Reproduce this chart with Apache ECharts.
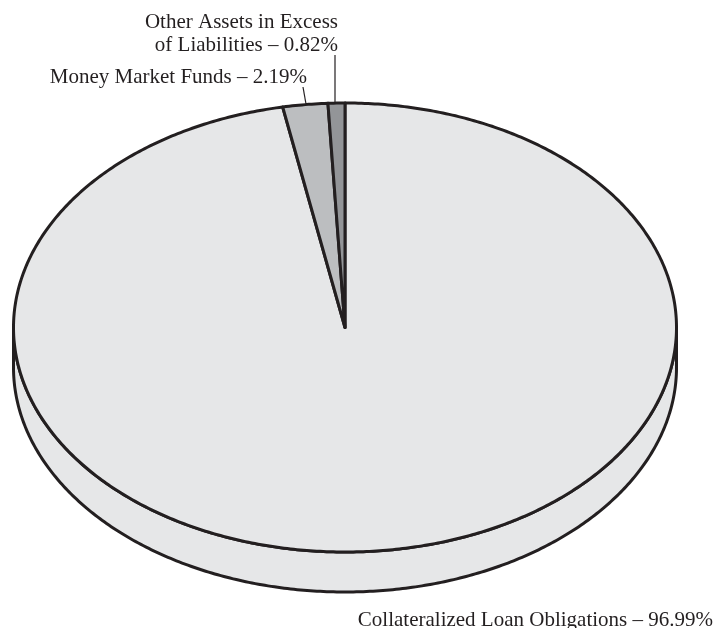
<!DOCTYPE html>
<html><head><meta charset="utf-8">
<style>html,body{margin:0;padding:0;background:#fff}#c{width:715px;height:628px}</style>
<script src="https://cdn.jsdelivr.net/npm/echarts@6/dist/echarts.min.js"></script>
</head><body><div id="c"></div>
<script>
const categories = ['Collateralized Loan Obligations', 'Money Market Funds', 'Other Assets in\u00A0Excess\nof Liabilities'];
const values = [96.99, 2.19, 0.82];
const colors = ['#e6e7e8', '#bcbec0', '#939598'];
const STROKE = '#231f20', LW = 3;
const CX = 345, CY = 327.5, RX = 331.5, RY = 224.5, DEPTH = 40;
const total = values.reduce((a, b) => a + b, 0);
const pt = (t, dy) => [CX + RX * Math.sin(t), CY + (dy || 0) - RY * Math.cos(t)];
function arcPts(a0, a1, dy) {
  const n = Math.max(2, Math.ceil((a1 - a0) / 0.01)), p = [];
  for (let i = 0; i <= n; i++) p.push(pt(a0 + (a1 - a0) * i / n, dy));
  return p;
}
const starts = [];
values.reduce((acc, v, i) => { starts[i] = acc; return acc + v; }, 0);
const toA = v => v / total * 2 * Math.PI;
const labelPos = [
  {x: 713, y: 620, align: 'right', lead: null},
  {x: 307, y: 77.5, align: 'right', lead: [[303, 87], [306, 104]]},
  {x: 338, y: 34, align: 'right', lead: [[335, 55], [335, 104]]}
];
const option = {
  animation: false,
  backgroundColor: '#fff',
  series: [
    { type: 'custom', coordinateSystem: 'none', silent: true, z: 1, data: [total],
      renderItem: () => {
        const lower = arcPts(Math.PI / 2, 3 * Math.PI / 2, DEPTH);
        const upper = arcPts(Math.PI / 2, 3 * Math.PI / 2, 0).reverse();
        return { type: 'group', children: [
          { type: 'polygon', shape: {points: lower.concat(upper)}, style: {fill: colors[0], stroke: STROKE, lineWidth: LW} }
        ]};
      } },
    { type: 'custom', coordinateSystem: 'none', silent: true, z: 2, data: values.map((v, i) => [i, v]),
      renderItem: (params, api) => {
        const i = api.value(0), v = api.value(1);
        const a0 = toA(starts[i]), a1 = a0 + toA(v);
        return { type: 'polygon', shape: {points: [[CX, CY]].concat(arcPts(a0, a1))},
          style: {fill: colors[i], stroke: STROKE, lineWidth: LW, lineJoin: 'round'} };
      } },
    { type: 'custom', coordinateSystem: 'none', silent: true, z: 3, data: values.map((v, i) => [i, v]),
      renderItem: (params, api) => {
        const i = api.value(0), v = api.value(1), L = labelPos[i];
        const children = [{ type: 'text', style: {
          x: L.x, y: L.y, text: categories[i] + ' \u2013 ' + v.toFixed(2) + '%',
          align: L.align, verticalAlign: 'middle',
          font: '21px "Liberation Serif"', lineHeight: 23, fill: STROKE } }];
        if (L.lead) children.push({ type: 'polyline', shape: {points: L.lead}, style: {fill: 'none', stroke: STROKE, lineWidth: 1.2} });
        return { type: 'group', children };
      } }
  ]
};
echarts.init(document.getElementById('c'), null, {renderer: 'canvas'}).setOption(option);
</script></body></html>
